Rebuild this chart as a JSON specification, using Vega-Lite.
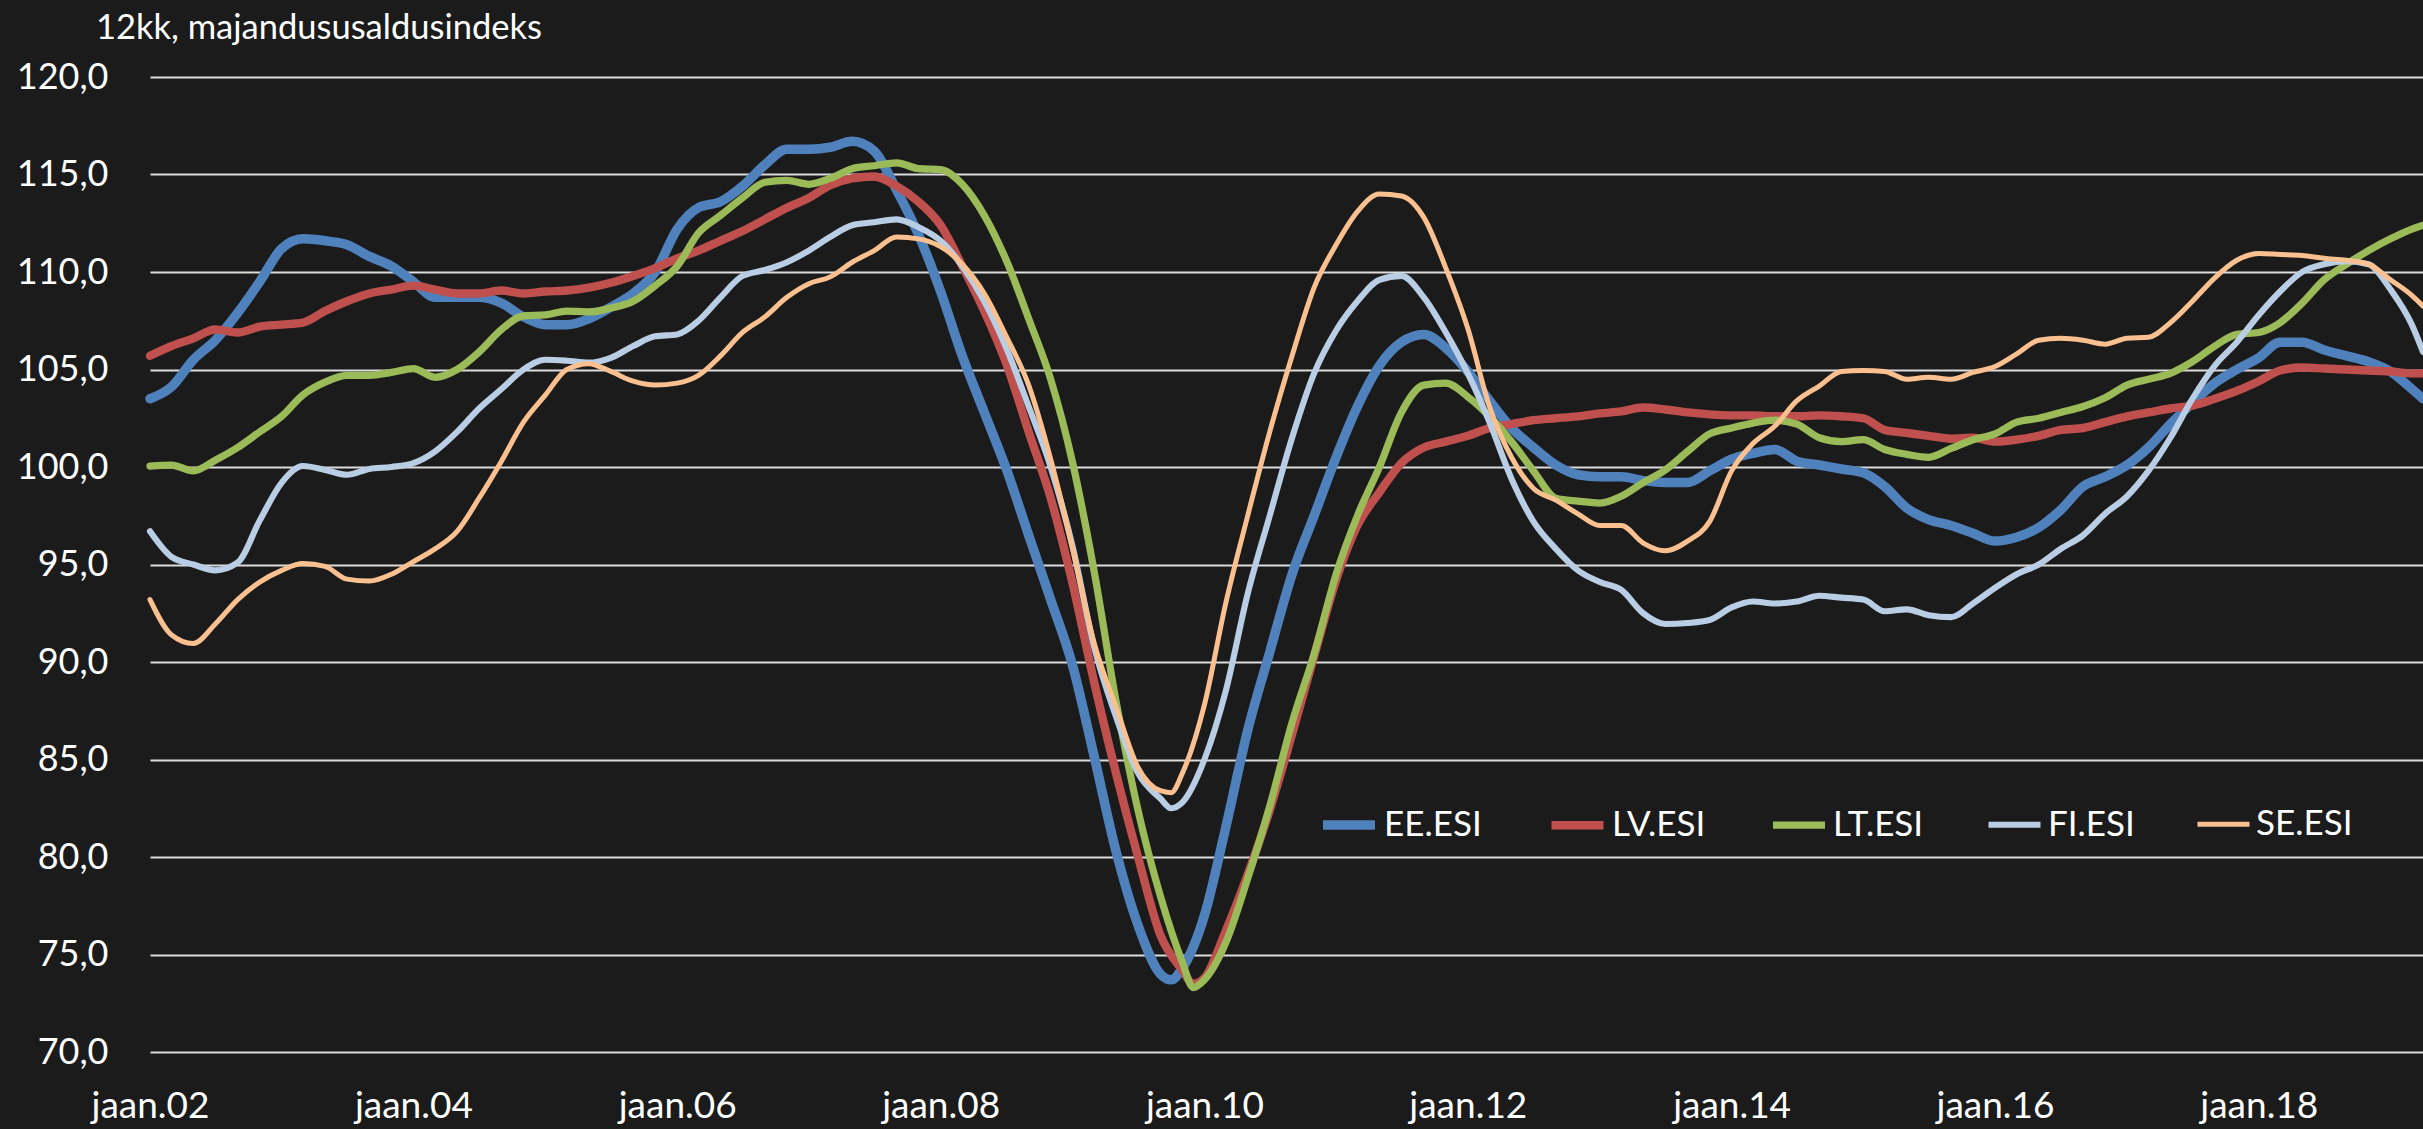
{
  "$schema": "https://vega.github.io/schema/vega-lite/v6.json",
  "width": 2273,
  "height": 975,
  "autosize": {"type": "none"},
  "padding": {"left": 150, "top": 77, "right": 0, "bottom": 77},
  "background": "#1b1b1b",
  "config": {
    "view": {"stroke": null},
    "font": "Lato",
    "axis": {"labelFont": "Lato"},
    "legend": {"labelFont": "Lato"},
    "title": {"font": "Lato"}
  },
  "title": {
    "text": "12kk, majandususaldusindeks",
    "anchor": "start",
    "frame": "group",
    "dx": -54,
    "offset": 13,
    "fontSize": 34.5,
    "fontWeight": "normal",
    "color": "#ffffff"
  },
  "data": {
    "values": [
      {"d":"2002-01","s":"EE.ESI","v":103.5},{"d":"2002-03","s":"EE.ESI","v":104.1},{"d":"2002-05","s":"EE.ESI","v":105.5},{"d":"2002-07","s":"EE.ESI","v":106.5},{"d":"2002-09","s":"EE.ESI","v":107.9},{"d":"2002-11","s":"EE.ESI","v":109.5},
      {"d":"2003-01","s":"EE.ESI","v":111.2},{"d":"2003-03","s":"EE.ESI","v":111.7},{"d":"2003-05","s":"EE.ESI","v":111.6},{"d":"2003-07","s":"EE.ESI","v":111.4},{"d":"2003-09","s":"EE.ESI","v":110.8},{"d":"2003-11","s":"EE.ESI","v":110.3},
      {"d":"2004-01","s":"EE.ESI","v":109.5},{"d":"2004-03","s":"EE.ESI","v":108.7},{"d":"2004-05","s":"EE.ESI","v":108.7},{"d":"2004-07","s":"EE.ESI","v":108.7},{"d":"2004-09","s":"EE.ESI","v":108.4},{"d":"2004-11","s":"EE.ESI","v":107.7},
      {"d":"2005-01","s":"EE.ESI","v":107.3},{"d":"2005-03","s":"EE.ESI","v":107.3},{"d":"2005-05","s":"EE.ESI","v":107.6},{"d":"2005-07","s":"EE.ESI","v":108.2},{"d":"2005-09","s":"EE.ESI","v":108.9},{"d":"2005-11","s":"EE.ESI","v":110.0},
      {"d":"2006-01","s":"EE.ESI","v":112.2},{"d":"2006-03","s":"EE.ESI","v":113.3},{"d":"2006-05","s":"EE.ESI","v":113.6},{"d":"2006-07","s":"EE.ESI","v":114.4},{"d":"2006-09","s":"EE.ESI","v":115.5},{"d":"2006-11","s":"EE.ESI","v":116.3},
      {"d":"2007-01","s":"EE.ESI","v":116.3},{"d":"2007-03","s":"EE.ESI","v":116.4},{"d":"2007-05","s":"EE.ESI","v":116.7},{"d":"2007-07","s":"EE.ESI","v":116.2},{"d":"2007-09","s":"EE.ESI","v":114.2},{"d":"2007-11","s":"EE.ESI","v":111.9},
      {"d":"2008-01","s":"EE.ESI","v":109.0},{"d":"2008-03","s":"EE.ESI","v":105.7},{"d":"2008-05","s":"EE.ESI","v":102.8},{"d":"2008-07","s":"EE.ESI","v":99.9},{"d":"2008-09","s":"EE.ESI","v":96.5},{"d":"2008-11","s":"EE.ESI","v":93.2},
      {"d":"2009-01","s":"EE.ESI","v":89.8},{"d":"2009-03","s":"EE.ESI","v":85.2},{"d":"2009-05","s":"EE.ESI","v":80.3},{"d":"2009-07","s":"EE.ESI","v":76.5},{"d":"2009-09","s":"EE.ESI","v":74.0},{"d":"2009-10","s":"EE.ESI","v":73.7},{"d":"2009-11","s":"EE.ESI","v":74.3},
      {"d":"2010-01","s":"EE.ESI","v":77.0},{"d":"2010-03","s":"EE.ESI","v":81.5},{"d":"2010-05","s":"EE.ESI","v":86.5},{"d":"2010-07","s":"EE.ESI","v":90.5},{"d":"2010-09","s":"EE.ESI","v":94.5},{"d":"2010-11","s":"EE.ESI","v":97.5},
      {"d":"2011-01","s":"EE.ESI","v":100.5},{"d":"2011-03","s":"EE.ESI","v":103.1},{"d":"2011-05","s":"EE.ESI","v":105.2},{"d":"2011-07","s":"EE.ESI","v":106.4},{"d":"2011-09","s":"EE.ESI","v":106.8},{"d":"2011-11","s":"EE.ESI","v":106.1},
      {"d":"2012-01","s":"EE.ESI","v":104.9},{"d":"2012-03","s":"EE.ESI","v":103.4},{"d":"2012-05","s":"EE.ESI","v":102.0},{"d":"2012-07","s":"EE.ESI","v":101.0},{"d":"2012-09","s":"EE.ESI","v":100.1},{"d":"2012-11","s":"EE.ESI","v":99.6},
      {"d":"2013-01","s":"EE.ESI","v":99.5},{"d":"2013-03","s":"EE.ESI","v":99.5},{"d":"2013-05","s":"EE.ESI","v":99.3},{"d":"2013-07","s":"EE.ESI","v":99.2},{"d":"2013-09","s":"EE.ESI","v":99.2},{"d":"2013-11","s":"EE.ESI","v":99.8},
      {"d":"2014-01","s":"EE.ESI","v":100.4},{"d":"2014-03","s":"EE.ESI","v":100.7},{"d":"2014-05","s":"EE.ESI","v":100.9},{"d":"2014-07","s":"EE.ESI","v":100.3},{"d":"2014-09","s":"EE.ESI","v":100.1},{"d":"2014-11","s":"EE.ESI","v":99.9},
      {"d":"2015-01","s":"EE.ESI","v":99.7},{"d":"2015-03","s":"EE.ESI","v":99.0},{"d":"2015-05","s":"EE.ESI","v":97.9},{"d":"2015-07","s":"EE.ESI","v":97.3},{"d":"2015-09","s":"EE.ESI","v":97.0},{"d":"2015-11","s":"EE.ESI","v":96.6},
      {"d":"2016-01","s":"EE.ESI","v":96.2},{"d":"2016-03","s":"EE.ESI","v":96.4},{"d":"2016-05","s":"EE.ESI","v":96.9},{"d":"2016-07","s":"EE.ESI","v":97.8},{"d":"2016-09","s":"EE.ESI","v":99.0},{"d":"2016-11","s":"EE.ESI","v":99.5},
      {"d":"2017-01","s":"EE.ESI","v":100.1},{"d":"2017-03","s":"EE.ESI","v":101.0},{"d":"2017-05","s":"EE.ESI","v":102.2},{"d":"2017-07","s":"EE.ESI","v":103.3},{"d":"2017-09","s":"EE.ESI","v":104.3},{"d":"2017-11","s":"EE.ESI","v":105.0},
      {"d":"2018-01","s":"EE.ESI","v":105.6},{"d":"2018-03","s":"EE.ESI","v":106.4},{"d":"2018-05","s":"EE.ESI","v":106.4},{"d":"2018-07","s":"EE.ESI","v":106.0},{"d":"2018-09","s":"EE.ESI","v":105.7},{"d":"2018-11","s":"EE.ESI","v":105.4},
      {"d":"2019-01","s":"EE.ESI","v":104.9},{"d":"2019-03","s":"EE.ESI","v":104.0},{"d":"2019-04","s":"EE.ESI","v":103.5},

      {"d":"2002-01","s":"LV.ESI","v":105.7},{"d":"2002-03","s":"LV.ESI","v":106.2},{"d":"2002-05","s":"LV.ESI","v":106.6},{"d":"2002-07","s":"LV.ESI","v":107.05},{"d":"2002-09","s":"LV.ESI","v":106.9},{"d":"2002-11","s":"LV.ESI","v":107.2},
      {"d":"2003-01","s":"LV.ESI","v":107.3},{"d":"2003-03","s":"LV.ESI","v":107.4},{"d":"2003-05","s":"LV.ESI","v":108.0},{"d":"2003-07","s":"LV.ESI","v":108.5},{"d":"2003-09","s":"LV.ESI","v":108.9},{"d":"2003-11","s":"LV.ESI","v":109.1},
      {"d":"2004-01","s":"LV.ESI","v":109.3},{"d":"2004-03","s":"LV.ESI","v":109.1},{"d":"2004-05","s":"LV.ESI","v":108.9},{"d":"2004-07","s":"LV.ESI","v":108.9},{"d":"2004-09","s":"LV.ESI","v":109.05},{"d":"2004-11","s":"LV.ESI","v":108.9},
      {"d":"2005-01","s":"LV.ESI","v":109.0},{"d":"2005-03","s":"LV.ESI","v":109.05},{"d":"2005-05","s":"LV.ESI","v":109.2},{"d":"2005-07","s":"LV.ESI","v":109.45},{"d":"2005-09","s":"LV.ESI","v":109.8},{"d":"2005-11","s":"LV.ESI","v":110.2},
      {"d":"2006-01","s":"LV.ESI","v":110.7},{"d":"2006-03","s":"LV.ESI","v":111.1},{"d":"2006-05","s":"LV.ESI","v":111.6},{"d":"2006-07","s":"LV.ESI","v":112.1},{"d":"2006-09","s":"LV.ESI","v":112.7},{"d":"2006-11","s":"LV.ESI","v":113.3},
      {"d":"2007-01","s":"LV.ESI","v":113.8},{"d":"2007-03","s":"LV.ESI","v":114.45},{"d":"2007-05","s":"LV.ESI","v":114.8},{"d":"2007-07","s":"LV.ESI","v":114.9},{"d":"2007-09","s":"LV.ESI","v":114.4},{"d":"2007-11","s":"LV.ESI","v":113.6},
      {"d":"2008-01","s":"LV.ESI","v":112.4},{"d":"2008-03","s":"LV.ESI","v":110.3},{"d":"2008-05","s":"LV.ESI","v":108.0},{"d":"2008-07","s":"LV.ESI","v":105.3},{"d":"2008-09","s":"LV.ESI","v":101.8},{"d":"2008-11","s":"LV.ESI","v":98.4},
      {"d":"2009-01","s":"LV.ESI","v":94.0},{"d":"2009-03","s":"LV.ESI","v":89.0},{"d":"2009-05","s":"LV.ESI","v":84.3},{"d":"2009-07","s":"LV.ESI","v":80.0},{"d":"2009-09","s":"LV.ESI","v":76.0},{"d":"2009-11","s":"LV.ESI","v":74.2},{"d":"2009-12","s":"LV.ESI","v":73.5},
      {"d":"2010-01","s":"LV.ESI","v":73.8},{"d":"2010-03","s":"LV.ESI","v":76.2},{"d":"2010-05","s":"LV.ESI","v":79.1},{"d":"2010-07","s":"LV.ESI","v":82.4},{"d":"2010-09","s":"LV.ESI","v":86.3},{"d":"2010-11","s":"LV.ESI","v":90.3},
      {"d":"2011-01","s":"LV.ESI","v":94.2},{"d":"2011-03","s":"LV.ESI","v":97.0},{"d":"2011-05","s":"LV.ESI","v":98.7},{"d":"2011-07","s":"LV.ESI","v":100.2},{"d":"2011-09","s":"LV.ESI","v":101.0},{"d":"2011-11","s":"LV.ESI","v":101.3},
      {"d":"2012-01","s":"LV.ESI","v":101.6},{"d":"2012-03","s":"LV.ESI","v":102.0},{"d":"2012-05","s":"LV.ESI","v":102.2},{"d":"2012-07","s":"LV.ESI","v":102.4},{"d":"2012-09","s":"LV.ESI","v":102.5},{"d":"2012-11","s":"LV.ESI","v":102.6},
      {"d":"2013-01","s":"LV.ESI","v":102.75},{"d":"2013-03","s":"LV.ESI","v":102.85},{"d":"2013-05","s":"LV.ESI","v":103.05},{"d":"2013-07","s":"LV.ESI","v":102.95},{"d":"2013-09","s":"LV.ESI","v":102.8},{"d":"2013-11","s":"LV.ESI","v":102.7},
      {"d":"2014-01","s":"LV.ESI","v":102.65},{"d":"2014-03","s":"LV.ESI","v":102.65},{"d":"2014-05","s":"LV.ESI","v":102.6},{"d":"2014-07","s":"LV.ESI","v":102.6},{"d":"2014-09","s":"LV.ESI","v":102.65},{"d":"2014-11","s":"LV.ESI","v":102.6},
      {"d":"2015-01","s":"LV.ESI","v":102.5},{"d":"2015-03","s":"LV.ESI","v":101.9},{"d":"2015-05","s":"LV.ESI","v":101.75},{"d":"2015-07","s":"LV.ESI","v":101.6},{"d":"2015-09","s":"LV.ESI","v":101.45},{"d":"2015-11","s":"LV.ESI","v":101.5},
      {"d":"2016-01","s":"LV.ESI","v":101.3},{"d":"2016-03","s":"LV.ESI","v":101.4},{"d":"2016-05","s":"LV.ESI","v":101.6},{"d":"2016-07","s":"LV.ESI","v":101.9},{"d":"2016-09","s":"LV.ESI","v":102.0},{"d":"2016-11","s":"LV.ESI","v":102.3},
      {"d":"2017-01","s":"LV.ESI","v":102.6},{"d":"2017-03","s":"LV.ESI","v":102.8},{"d":"2017-05","s":"LV.ESI","v":103.0},{"d":"2017-07","s":"LV.ESI","v":103.15},{"d":"2017-09","s":"LV.ESI","v":103.5},{"d":"2017-11","s":"LV.ESI","v":103.9},
      {"d":"2018-01","s":"LV.ESI","v":104.4},{"d":"2018-03","s":"LV.ESI","v":104.95},{"d":"2018-05","s":"LV.ESI","v":105.1},{"d":"2018-07","s":"LV.ESI","v":105.05},{"d":"2018-09","s":"LV.ESI","v":105.0},{"d":"2018-11","s":"LV.ESI","v":104.95},
      {"d":"2019-01","s":"LV.ESI","v":104.9},{"d":"2019-03","s":"LV.ESI","v":104.8},{"d":"2019-04","s":"LV.ESI","v":104.8},

      {"d":"2002-01","s":"LT.ESI","v":100.05},{"d":"2002-03","s":"LT.ESI","v":100.1},{"d":"2002-05","s":"LT.ESI","v":99.8},{"d":"2002-07","s":"LT.ESI","v":100.35},{"d":"2002-09","s":"LT.ESI","v":101.0},{"d":"2002-11","s":"LT.ESI","v":101.8},
      {"d":"2003-01","s":"LT.ESI","v":102.6},{"d":"2003-03","s":"LT.ESI","v":103.7},{"d":"2003-05","s":"LT.ESI","v":104.35},{"d":"2003-07","s":"LT.ESI","v":104.7},{"d":"2003-09","s":"LT.ESI","v":104.7},{"d":"2003-11","s":"LT.ESI","v":104.85},
      {"d":"2004-01","s":"LT.ESI","v":105.05},{"d":"2004-03","s":"LT.ESI","v":104.6},{"d":"2004-05","s":"LT.ESI","v":105.0},{"d":"2004-07","s":"LT.ESI","v":105.9},{"d":"2004-09","s":"LT.ESI","v":107.05},{"d":"2004-11","s":"LT.ESI","v":107.75},
      {"d":"2005-01","s":"LT.ESI","v":107.8},{"d":"2005-03","s":"LT.ESI","v":108.0},{"d":"2005-05","s":"LT.ESI","v":107.95},{"d":"2005-07","s":"LT.ESI","v":108.15},{"d":"2005-09","s":"LT.ESI","v":108.5},{"d":"2005-11","s":"LT.ESI","v":109.3},
      {"d":"2006-01","s":"LT.ESI","v":110.3},{"d":"2006-03","s":"LT.ESI","v":112.0},{"d":"2006-05","s":"LT.ESI","v":112.9},{"d":"2006-07","s":"LT.ESI","v":113.8},{"d":"2006-09","s":"LT.ESI","v":114.6},{"d":"2006-11","s":"LT.ESI","v":114.7},
      {"d":"2007-01","s":"LT.ESI","v":114.5},{"d":"2007-03","s":"LT.ESI","v":114.8},{"d":"2007-05","s":"LT.ESI","v":115.3},{"d":"2007-07","s":"LT.ESI","v":115.45},{"d":"2007-09","s":"LT.ESI","v":115.6},{"d":"2007-11","s":"LT.ESI","v":115.3},
      {"d":"2008-01","s":"LT.ESI","v":115.25},{"d":"2008-03","s":"LT.ESI","v":114.5},{"d":"2008-05","s":"LT.ESI","v":112.9},{"d":"2008-07","s":"LT.ESI","v":110.6},{"d":"2008-09","s":"LT.ESI","v":107.6},{"d":"2008-11","s":"LT.ESI","v":104.5},
      {"d":"2009-01","s":"LT.ESI","v":100.2},{"d":"2009-03","s":"LT.ESI","v":94.7},{"d":"2009-05","s":"LT.ESI","v":88.0},{"d":"2009-07","s":"LT.ESI","v":82.4},{"d":"2009-09","s":"LT.ESI","v":78.0},{"d":"2009-11","s":"LT.ESI","v":74.6},{"d":"2009-12","s":"LT.ESI","v":73.3},
      {"d":"2010-01","s":"LT.ESI","v":73.7},{"d":"2010-03","s":"LT.ESI","v":75.6},{"d":"2010-05","s":"LT.ESI","v":78.9},{"d":"2010-07","s":"LT.ESI","v":82.6},{"d":"2010-09","s":"LT.ESI","v":86.9},{"d":"2010-11","s":"LT.ESI","v":90.4},
      {"d":"2011-01","s":"LT.ESI","v":94.5},{"d":"2011-03","s":"LT.ESI","v":97.5},{"d":"2011-05","s":"LT.ESI","v":100.0},{"d":"2011-07","s":"LT.ESI","v":102.8},{"d":"2011-09","s":"LT.ESI","v":104.2},{"d":"2011-11","s":"LT.ESI","v":104.3},
      {"d":"2012-01","s":"LT.ESI","v":103.6},{"d":"2012-03","s":"LT.ESI","v":102.6},{"d":"2012-05","s":"LT.ESI","v":101.3},{"d":"2012-07","s":"LT.ESI","v":99.8},{"d":"2012-09","s":"LT.ESI","v":98.4},{"d":"2012-11","s":"LT.ESI","v":98.25},
      {"d":"2013-01","s":"LT.ESI","v":98.15},{"d":"2013-03","s":"LT.ESI","v":98.5},{"d":"2013-05","s":"LT.ESI","v":99.2},{"d":"2013-07","s":"LT.ESI","v":99.85},{"d":"2013-09","s":"LT.ESI","v":100.8},{"d":"2013-11","s":"LT.ESI","v":101.7},
      {"d":"2014-01","s":"LT.ESI","v":102.0},{"d":"2014-03","s":"LT.ESI","v":102.25},{"d":"2014-05","s":"LT.ESI","v":102.4},{"d":"2014-07","s":"LT.ESI","v":102.2},{"d":"2014-09","s":"LT.ESI","v":101.5},{"d":"2014-11","s":"LT.ESI","v":101.3},
      {"d":"2015-01","s":"LT.ESI","v":101.4},{"d":"2015-03","s":"LT.ESI","v":100.9},{"d":"2015-05","s":"LT.ESI","v":100.65},{"d":"2015-07","s":"LT.ESI","v":100.5},{"d":"2015-09","s":"LT.ESI","v":100.95},{"d":"2015-11","s":"LT.ESI","v":101.4},
      {"d":"2016-01","s":"LT.ESI","v":101.7},{"d":"2016-03","s":"LT.ESI","v":102.3},{"d":"2016-05","s":"LT.ESI","v":102.5},{"d":"2016-07","s":"LT.ESI","v":102.8},{"d":"2016-09","s":"LT.ESI","v":103.1},{"d":"2016-11","s":"LT.ESI","v":103.55},
      {"d":"2017-01","s":"LT.ESI","v":104.2},{"d":"2017-03","s":"LT.ESI","v":104.5},{"d":"2017-05","s":"LT.ESI","v":104.8},{"d":"2017-07","s":"LT.ESI","v":105.4},{"d":"2017-09","s":"LT.ESI","v":106.2},{"d":"2017-11","s":"LT.ESI","v":106.8},
      {"d":"2018-01","s":"LT.ESI","v":106.9},{"d":"2018-03","s":"LT.ESI","v":107.4},{"d":"2018-05","s":"LT.ESI","v":108.4},{"d":"2018-07","s":"LT.ESI","v":109.6},{"d":"2018-09","s":"LT.ESI","v":110.4},{"d":"2018-11","s":"LT.ESI","v":111.1},
      {"d":"2019-01","s":"LT.ESI","v":111.7},{"d":"2019-03","s":"LT.ESI","v":112.2},{"d":"2019-04","s":"LT.ESI","v":112.4},

      {"d":"2002-01","s":"FI.ESI","v":96.7},{"d":"2002-03","s":"FI.ESI","v":95.4},{"d":"2002-05","s":"FI.ESI","v":95.0},{"d":"2002-07","s":"FI.ESI","v":94.7},{"d":"2002-09","s":"FI.ESI","v":95.1},{"d":"2002-11","s":"FI.ESI","v":97.25},
      {"d":"2003-01","s":"FI.ESI","v":99.2},{"d":"2003-03","s":"FI.ESI","v":100.05},{"d":"2003-05","s":"FI.ESI","v":99.85},{"d":"2003-07","s":"FI.ESI","v":99.6},{"d":"2003-09","s":"FI.ESI","v":99.9},{"d":"2003-11","s":"FI.ESI","v":100.0},
      {"d":"2004-01","s":"FI.ESI","v":100.2},{"d":"2004-03","s":"FI.ESI","v":100.8},{"d":"2004-05","s":"FI.ESI","v":101.8},{"d":"2004-07","s":"FI.ESI","v":103.0},{"d":"2004-09","s":"FI.ESI","v":104.0},{"d":"2004-11","s":"FI.ESI","v":105.0},
      {"d":"2005-01","s":"FI.ESI","v":105.5},{"d":"2005-03","s":"FI.ESI","v":105.45},{"d":"2005-05","s":"FI.ESI","v":105.35},{"d":"2005-07","s":"FI.ESI","v":105.6},{"d":"2005-09","s":"FI.ESI","v":106.2},{"d":"2005-11","s":"FI.ESI","v":106.7},
      {"d":"2006-01","s":"FI.ESI","v":106.8},{"d":"2006-03","s":"FI.ESI","v":107.5},{"d":"2006-05","s":"FI.ESI","v":108.7},{"d":"2006-07","s":"FI.ESI","v":109.8},{"d":"2006-09","s":"FI.ESI","v":110.1},{"d":"2006-11","s":"FI.ESI","v":110.5},
      {"d":"2007-01","s":"FI.ESI","v":111.1},{"d":"2007-03","s":"FI.ESI","v":111.8},{"d":"2007-05","s":"FI.ESI","v":112.4},{"d":"2007-07","s":"FI.ESI","v":112.55},{"d":"2007-09","s":"FI.ESI","v":112.7},{"d":"2007-11","s":"FI.ESI","v":112.3},
      {"d":"2008-01","s":"FI.ESI","v":111.6},{"d":"2008-03","s":"FI.ESI","v":110.3},{"d":"2008-05","s":"FI.ESI","v":108.5},{"d":"2008-07","s":"FI.ESI","v":106.1},{"d":"2008-09","s":"FI.ESI","v":103.1},{"d":"2008-11","s":"FI.ESI","v":100.0},
      {"d":"2009-01","s":"FI.ESI","v":95.9},{"d":"2009-03","s":"FI.ESI","v":90.8},{"d":"2009-05","s":"FI.ESI","v":87.2},{"d":"2009-07","s":"FI.ESI","v":84.3},{"d":"2009-09","s":"FI.ESI","v":83.0},{"d":"2009-10","s":"FI.ESI","v":82.5},{"d":"2009-11","s":"FI.ESI","v":82.8},
      {"d":"2010-01","s":"FI.ESI","v":85.0},{"d":"2010-03","s":"FI.ESI","v":88.5},{"d":"2010-05","s":"FI.ESI","v":93.5},{"d":"2010-07","s":"FI.ESI","v":97.5},{"d":"2010-09","s":"FI.ESI","v":101.5},{"d":"2010-11","s":"FI.ESI","v":104.8},
      {"d":"2011-01","s":"FI.ESI","v":107.0},{"d":"2011-03","s":"FI.ESI","v":108.5},{"d":"2011-05","s":"FI.ESI","v":109.6},{"d":"2011-07","s":"FI.ESI","v":109.8},{"d":"2011-09","s":"FI.ESI","v":108.7},{"d":"2011-11","s":"FI.ESI","v":106.9},
      {"d":"2012-01","s":"FI.ESI","v":104.8},{"d":"2012-03","s":"FI.ESI","v":102.3},{"d":"2012-05","s":"FI.ESI","v":99.4},{"d":"2012-07","s":"FI.ESI","v":97.2},{"d":"2012-09","s":"FI.ESI","v":95.8},{"d":"2012-11","s":"FI.ESI","v":94.7},
      {"d":"2013-01","s":"FI.ESI","v":94.1},{"d":"2013-03","s":"FI.ESI","v":93.7},{"d":"2013-05","s":"FI.ESI","v":92.5},{"d":"2013-07","s":"FI.ESI","v":91.95},{"d":"2013-09","s":"FI.ESI","v":92.0},{"d":"2013-11","s":"FI.ESI","v":92.15},
      {"d":"2014-01","s":"FI.ESI","v":92.8},{"d":"2014-03","s":"FI.ESI","v":93.1},{"d":"2014-05","s":"FI.ESI","v":93.0},{"d":"2014-07","s":"FI.ESI","v":93.1},{"d":"2014-09","s":"FI.ESI","v":93.4},{"d":"2014-11","s":"FI.ESI","v":93.3},
      {"d":"2015-01","s":"FI.ESI","v":93.2},{"d":"2015-03","s":"FI.ESI","v":92.6},{"d":"2015-05","s":"FI.ESI","v":92.7},{"d":"2015-07","s":"FI.ESI","v":92.4},{"d":"2015-09","s":"FI.ESI","v":92.3},{"d":"2015-11","s":"FI.ESI","v":93.0},
      {"d":"2016-01","s":"FI.ESI","v":93.8},{"d":"2016-03","s":"FI.ESI","v":94.5},{"d":"2016-05","s":"FI.ESI","v":95.0},{"d":"2016-07","s":"FI.ESI","v":95.8},{"d":"2016-09","s":"FI.ESI","v":96.5},{"d":"2016-11","s":"FI.ESI","v":97.6},
      {"d":"2017-01","s":"FI.ESI","v":98.5},{"d":"2017-03","s":"FI.ESI","v":99.8},{"d":"2017-05","s":"FI.ESI","v":101.5},{"d":"2017-07","s":"FI.ESI","v":103.5},{"d":"2017-09","s":"FI.ESI","v":105.2},{"d":"2017-11","s":"FI.ESI","v":106.4},
      {"d":"2018-01","s":"FI.ESI","v":107.8},{"d":"2018-03","s":"FI.ESI","v":109.0},{"d":"2018-05","s":"FI.ESI","v":110.0},{"d":"2018-07","s":"FI.ESI","v":110.4},{"d":"2018-09","s":"FI.ESI","v":110.55},{"d":"2018-11","s":"FI.ESI","v":110.4},
      {"d":"2019-01","s":"FI.ESI","v":109.1},{"d":"2019-03","s":"FI.ESI","v":107.3},{"d":"2019-04","s":"FI.ESI","v":105.9},

      {"d":"2002-01","s":"SE.ESI","v":93.2},{"d":"2002-03","s":"SE.ESI","v":91.4},{"d":"2002-05","s":"SE.ESI","v":90.95},{"d":"2002-07","s":"SE.ESI","v":91.95},{"d":"2002-09","s":"SE.ESI","v":93.2},{"d":"2002-11","s":"SE.ESI","v":94.1},
      {"d":"2003-01","s":"SE.ESI","v":94.7},{"d":"2003-03","s":"SE.ESI","v":95.05},{"d":"2003-05","s":"SE.ESI","v":94.9},{"d":"2003-07","s":"SE.ESI","v":94.25},{"d":"2003-09","s":"SE.ESI","v":94.15},{"d":"2003-11","s":"SE.ESI","v":94.5},
      {"d":"2004-01","s":"SE.ESI","v":95.15},{"d":"2004-03","s":"SE.ESI","v":95.8},{"d":"2004-05","s":"SE.ESI","v":96.7},{"d":"2004-07","s":"SE.ESI","v":98.4},{"d":"2004-09","s":"SE.ESI","v":100.3},{"d":"2004-11","s":"SE.ESI","v":102.3},
      {"d":"2005-01","s":"SE.ESI","v":103.7},{"d":"2005-03","s":"SE.ESI","v":105.0},{"d":"2005-05","s":"SE.ESI","v":105.3},{"d":"2005-07","s":"SE.ESI","v":104.9},{"d":"2005-09","s":"SE.ESI","v":104.4},{"d":"2005-11","s":"SE.ESI","v":104.2},
      {"d":"2006-01","s":"SE.ESI","v":104.3},{"d":"2006-03","s":"SE.ESI","v":104.7},{"d":"2006-05","s":"SE.ESI","v":105.7},{"d":"2006-07","s":"SE.ESI","v":106.9},{"d":"2006-09","s":"SE.ESI","v":107.7},{"d":"2006-11","s":"SE.ESI","v":108.7},
      {"d":"2007-01","s":"SE.ESI","v":109.4},{"d":"2007-03","s":"SE.ESI","v":109.75},{"d":"2007-05","s":"SE.ESI","v":110.5},{"d":"2007-07","s":"SE.ESI","v":111.1},{"d":"2007-09","s":"SE.ESI","v":111.8},{"d":"2007-11","s":"SE.ESI","v":111.7},
      {"d":"2008-01","s":"SE.ESI","v":111.3},{"d":"2008-03","s":"SE.ESI","v":110.4},{"d":"2008-05","s":"SE.ESI","v":108.9},{"d":"2008-07","s":"SE.ESI","v":106.7},{"d":"2008-09","s":"SE.ESI","v":104.2},{"d":"2008-11","s":"SE.ESI","v":100.4},
      {"d":"2009-01","s":"SE.ESI","v":95.8},{"d":"2009-03","s":"SE.ESI","v":91.0},{"d":"2009-05","s":"SE.ESI","v":87.7},{"d":"2009-07","s":"SE.ESI","v":84.6},{"d":"2009-09","s":"SE.ESI","v":83.4},{"d":"2009-10","s":"SE.ESI","v":83.3},{"d":"2009-11","s":"SE.ESI","v":84.3},
      {"d":"2010-01","s":"SE.ESI","v":87.8},{"d":"2010-03","s":"SE.ESI","v":93.0},{"d":"2010-05","s":"SE.ESI","v":97.5},{"d":"2010-07","s":"SE.ESI","v":101.8},{"d":"2010-09","s":"SE.ESI","v":105.7},{"d":"2010-11","s":"SE.ESI","v":109.2},
      {"d":"2011-01","s":"SE.ESI","v":111.4},{"d":"2011-03","s":"SE.ESI","v":113.1},{"d":"2011-05","s":"SE.ESI","v":114.0},{"d":"2011-07","s":"SE.ESI","v":113.9},{"d":"2011-09","s":"SE.ESI","v":112.8},{"d":"2011-11","s":"SE.ESI","v":110.2},
      {"d":"2012-01","s":"SE.ESI","v":107.1},{"d":"2012-03","s":"SE.ESI","v":103.1},{"d":"2012-05","s":"SE.ESI","v":100.5},{"d":"2012-07","s":"SE.ESI","v":98.9},{"d":"2012-09","s":"SE.ESI","v":98.3},{"d":"2012-11","s":"SE.ESI","v":97.6},
      {"d":"2013-01","s":"SE.ESI","v":97.0},{"d":"2013-03","s":"SE.ESI","v":97.0},{"d":"2013-05","s":"SE.ESI","v":96.1},{"d":"2013-07","s":"SE.ESI","v":95.7},{"d":"2013-09","s":"SE.ESI","v":96.2},{"d":"2013-11","s":"SE.ESI","v":97.2},
      {"d":"2014-01","s":"SE.ESI","v":99.8},{"d":"2014-03","s":"SE.ESI","v":101.2},{"d":"2014-05","s":"SE.ESI","v":102.1},{"d":"2014-07","s":"SE.ESI","v":103.4},{"d":"2014-09","s":"SE.ESI","v":104.15},{"d":"2014-11","s":"SE.ESI","v":104.9},
      {"d":"2015-01","s":"SE.ESI","v":104.95},{"d":"2015-03","s":"SE.ESI","v":104.9},{"d":"2015-05","s":"SE.ESI","v":104.5},{"d":"2015-07","s":"SE.ESI","v":104.6},{"d":"2015-09","s":"SE.ESI","v":104.5},{"d":"2015-11","s":"SE.ESI","v":104.85},
      {"d":"2016-01","s":"SE.ESI","v":105.15},{"d":"2016-03","s":"SE.ESI","v":105.8},{"d":"2016-05","s":"SE.ESI","v":106.5},{"d":"2016-07","s":"SE.ESI","v":106.6},{"d":"2016-09","s":"SE.ESI","v":106.5},{"d":"2016-11","s":"SE.ESI","v":106.3},
      {"d":"2017-01","s":"SE.ESI","v":106.6},{"d":"2017-03","s":"SE.ESI","v":106.65},{"d":"2017-05","s":"SE.ESI","v":107.4},{"d":"2017-07","s":"SE.ESI","v":108.5},{"d":"2017-09","s":"SE.ESI","v":109.7},{"d":"2017-11","s":"SE.ESI","v":110.6},
      {"d":"2018-01","s":"SE.ESI","v":110.95},{"d":"2018-03","s":"SE.ESI","v":110.9},{"d":"2018-05","s":"SE.ESI","v":110.85},{"d":"2018-07","s":"SE.ESI","v":110.7},{"d":"2018-09","s":"SE.ESI","v":110.6},{"d":"2018-11","s":"SE.ESI","v":110.4},
      {"d":"2019-01","s":"SE.ESI","v":109.6},{"d":"2019-03","s":"SE.ESI","v":108.8},{"d":"2019-04","s":"SE.ESI","v":108.25}
    ]
  },
  "mark": {"type": "line", "interpolate": "monotone", "strokeCap": "round", "strokeJoin": "round"},
  "encoding": {
    "x": {
      "field": "d",
      "type": "temporal",
      "scale": {"type": "utc", "domain": [{"year": 2002, "month": 1, "date": 1, "utc": true}, {"year": 2019, "month": 4, "date": 1, "utc": true}]},
      "axis": {
        "title": null,
        "values": [
          {"year": 2002, "month": 1, "date": 1, "utc": true},
          {"year": 2004, "month": 1, "date": 1, "utc": true},
          {"year": 2006, "month": 1, "date": 1, "utc": true},
          {"year": 2008, "month": 1, "date": 1, "utc": true},
          {"year": 2010, "month": 1, "date": 1, "utc": true},
          {"year": 2012, "month": 1, "date": 1, "utc": true},
          {"year": 2014, "month": 1, "date": 1, "utc": true},
          {"year": 2016, "month": 1, "date": 1, "utc": true},
          {"year": 2018, "month": 1, "date": 1, "utc": true}
        ],
        "labelExpr": "'jaan.' + utcFormat(datum.value, '%y')",
        "grid": false,
        "domain": false,
        "ticks": false,
        "labelFontSize": 37,
        "labelColor": "#ffffff",
        "labelPadding": 36,
        "labelFlush": false,
        "labelOverlap": false,
        "labelBound": false
      }
    },
    "y": {
      "field": "v",
      "type": "quantitative",
      "scale": {"domain": [70, 120], "nice": false, "zero": false},
      "axis": {
        "title": null,
        "values": [70, 75, 80, 85, 90, 95, 100, 105, 110, 115, 120],
        "labelExpr": "replace(format(datum.value, '.1f'), '.', ',')",
        "grid": true,
        "gridColor": "#dcdcdc",
        "gridWidth": 2,
        "domain": false,
        "ticks": false,
        "labelFontSize": 36,
        "labelColor": "#ffffff",
        "labelPadding": 42
      }
    },
    "color": {
      "field": "s",
      "type": "nominal",
      "scale": {
        "domain": ["EE.ESI", "LV.ESI", "LT.ESI", "FI.ESI", "SE.ESI"],
        "range": ["#4F81BD", "#C0504D", "#9BBB59", "#B9CDE5", "#FAC090"]
      },
      "legend": {
        "title": null,
        "orient": "none",
        "legendX": 1168,
        "legendY": 717,
        "direction": "horizontal",
        "symbolType": "stroke",
        "symbolSize": 2704,
        "labelFontSize": 35,
        "labelColor": "#ffffff",
        "labelOffset": 4,
        "columnPadding": 52,
        "padding": 0
      }
    },
    "strokeWidth": {
      "field": "s",
      "type": "nominal",
      "scale": {
        "domain": ["EE.ESI", "LV.ESI", "LT.ESI", "FI.ESI", "SE.ESI"],
        "range": [9.5, 5, 5, 5, 5]
      },
      "legend": {
        "title": null,
        "orient": "none",
        "legendX": 1168,
        "legendY": 717,
        "direction": "horizontal",
        "symbolType": "stroke",
        "symbolSize": 2704,
        "labelFontSize": 35,
        "labelColor": "#ffffff",
        "labelOffset": 4,
        "columnPadding": 52,
        "padding": 0
      }
    }
  }
}
